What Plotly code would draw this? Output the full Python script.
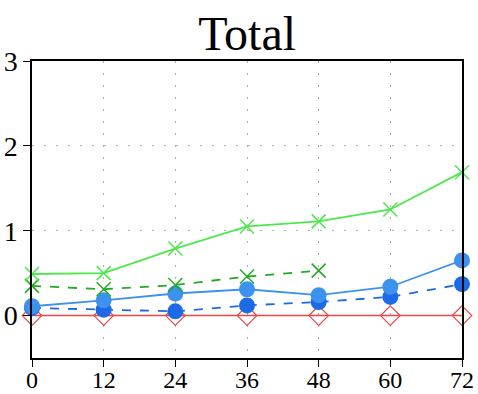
import plotly.graph_objects as go

hours = [0, 12, 24, 36, 48, 60, 72]

green_solid = [0.49, 0.50, 0.79, 1.05, 1.11, 1.25, 1.69]
green_dash_x = [0, 12, 24, 36, 48]
green_dash = [0.35, 0.31, 0.36, 0.46, 0.53]
blue_light = [0.11, 0.18, 0.26, 0.31, 0.24, 0.34, 0.65]
blue_dark = [0.09, 0.07, 0.05, 0.12, 0.16, 0.22, 0.37]
red_zero = [0, 0, 0, 0, 0, 0, 0]

FONT = "Liberation Serif"

fig = go.Figure()

fig.add_trace(go.Scatter(
    x=hours, y=red_zero, mode="lines+markers",
    line=dict(color="#e84848", width=1.5),
    marker=dict(symbol="diamond-open", size=15, color="#e84848", line=dict(width=1.2)),
    cliponaxis=False,
))
fig.add_trace(go.Scatter(
    x=hours, y=blue_dark, mode="lines+markers",
    line=dict(color="#1c6ae6", width=1.8, dash="dash"),
    marker=dict(symbol="circle", size=16, color="#1c6ae6"),
    cliponaxis=False,
))
fig.add_trace(go.Scatter(
    x=hours, y=blue_light, mode="lines+markers",
    line=dict(color="#3c92ee", width=1.8),
    marker=dict(symbol="circle", size=16, color="#3c92ee"),
    cliponaxis=False,
))
fig.add_trace(go.Scatter(
    x=green_dash_x, y=green_dash, mode="lines+markers",
    line=dict(color="#22aa22", width=1.8, dash="dash"),
    marker=dict(symbol="x-thin-open", size=14, color="#22aa22", line=dict(width=1.5, color="#22aa22")),
    cliponaxis=False,
))
fig.add_trace(go.Scatter(
    x=hours, y=green_solid, mode="lines+markers",
    line=dict(color="#4ee84e", width=1.8),
    marker=dict(symbol="x-thin-open", size=14, color="#4ee84e", line=dict(width=1.5, color="#4ee84e")),
    cliponaxis=False,
))

axis_common = dict(
    automargin=False,
    showline=True, linecolor="black", linewidth=1.5, mirror=True,
    ticks="outside", ticklen=7, tickcolor="black", tickwidth=1,
    showgrid=True, gridcolor="#b0b0b0", griddash="2px,10px", gridwidth=1,
    zeroline=False,
)

fig.update_xaxes(range=[0, 72], tickvals=hours, ticktext=[str(h) for h in hours],
                 ticklabelstandoff=-8, tickfont=dict(family=FONT, size=24, color="black"),
                 **axis_common)
fig.update_yaxes(range=[-0.5, 3], tickvals=[0, 1, 2, 3], ticktext=["0", "1", "2", "3"],
                 ticklabelstandoff=0, tickfont=dict(family=FONT, size=28, color="black"),
                 **axis_common)

fig.update_layout(
    width=478, height=394,
    margin=dict(l=32, r=16, t=61, b=36),
    paper_bgcolor="white", plot_bgcolor="white",
    showlegend=False,
    title=dict(text="Total", x=0.517, xanchor="center", y=0.915, yanchor="middle",
               font=dict(family=FONT, size=48, color="black")),
)

fig.write_html("out.html")
